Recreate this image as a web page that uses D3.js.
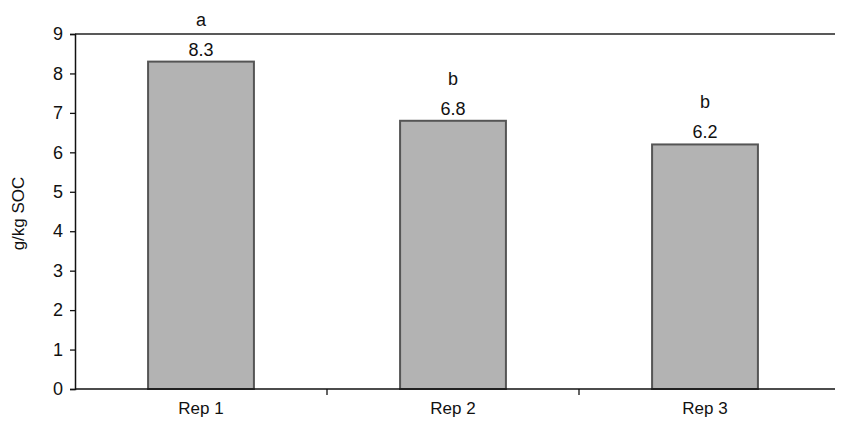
<!DOCTYPE html>
<html>
<head>
<meta charset="utf-8">
<script src="https://cdn.jsdelivr.net/npm/d3@7"></script>
<style>
body { margin: 0; background: #fff; }
text { font-family: "Liberation Sans", Arial, sans-serif; fill: #111; }
</style>
</head>
<body>
<svg width="841" height="425"></svg>
<script>
var categories = ["Rep 1", "Rep 2", "Rep 3"];
var values = [8.3, 6.8, 6.2];
var letters = ["a", "b", "b"];
var yTicks = [0, 1, 2, 3, 4, 5, 6, 7, 8, 9];

var margins = {top: 34, right: 6, bottom: 36, left: 75};
var width = 841 - margins.left - margins.right;
var height = 425 - margins.top - margins.bottom;

var svg = d3.select("svg");
var g = svg.append("g")
    .attr("transform", "translate(" + margins.left + "," + margins.top + ")");

var xScale = d3.scaleBand()
    .domain(categories)
    .range([0, 756])
    .paddingInner(0.58)
    .paddingOuter(0.29);

var yScale = d3.scaleLinear()
    .domain([0, 9])
    .range([height, 0]);

// top border line
g.append("line")
    .attr("x1", 0).attr("x2", width)
    .attr("y1", 0).attr("y2", 0)
    .attr("stroke", "#222").attr("stroke-width", 1.3);

// bars
g.selectAll("rect.bar")
    .data(values)
    .enter()
    .append("rect")
    .attr("class", "bar")
    .attr("x", function(d, i) { return xScale(categories[i]); })
    .attr("y", function(d) { return yScale(d); })
    .attr("width", xScale.bandwidth())
    .attr("height", function(d) { return yScale(0) - yScale(d); })
    .attr("fill", "#b3b3b3")
    .attr("stroke", "#555")
    .attr("stroke-width", 2);

// value labels
g.selectAll("text.val")
    .data(values)
    .enter()
    .append("text")
    .attr("class", "val")
    .attr("x", function(d, i) { return xScale(categories[i]) + xScale.bandwidth() / 2; })
    .attr("y", function(d) { return yScale(d) - 6; })
    .attr("text-anchor", "middle")
    .style("font-size", "18px")
    .text(function(d) { return d.toFixed(1); });

// significance letters
g.selectAll("text.letter")
    .data(letters)
    .enter()
    .append("text")
    .attr("class", "letter")
    .attr("x", function(d, i) { return xScale(categories[i]) + xScale.bandwidth() / 2; })
    .attr("y", function(d, i) { return yScale(values[i]) - 36; })
    .attr("text-anchor", "middle")
    .style("font-size", "18px")
    .text(function(d) { return d; });

// y axis
var yAxis = d3.axisLeft(yScale)
    .tickValues(yTicks)
    .tickSize(5)
    .tickPadding(7)
    .tickFormat(d3.format("d"));

var yG = g.append("g").call(yAxis);
yG.select(".domain").attr("stroke", "#111").attr("stroke-width", 1.5);
yG.selectAll(".tick line").attr("stroke", "#111").attr("stroke-width", 1.3);
yG.selectAll(".tick text").style("font-size", "18px").attr("fill", "#111");

// x axis
var xAxis = d3.axisBottom(xScale).tickSize(0).tickPadding(13);
var xG = g.append("g")
    .attr("transform", "translate(0," + height + ")")
    .call(xAxis);
xG.select(".domain").remove();
xG.append("line")
    .attr("x1", 0).attr("x2", width)
    .attr("stroke", "#111").attr("stroke-width", 1.5);
xG.selectAll(".tick text").style("font-size", "17px").attr("fill", "#111");

// category separator ticks
var step = xScale.step();
xG.selectAll("line.sep")
    .data(categories.slice(0, categories.length - 1))
    .enter()
    .append("line")
    .attr("class", "sep")
    .attr("x1", function(d) { return xScale(d) + xScale.bandwidth() + step * xScale.paddingInner() / 2; })
    .attr("x2", function(d) { return xScale(d) + xScale.bandwidth() + step * xScale.paddingInner() / 2; })
    .attr("y1", 0).attr("y2", 6)
    .attr("stroke", "#111").attr("stroke-width", 1.3);

// y axis title
svg.append("text")
    .attr("transform", "translate(24," + (margins.top + height / 2 + 2) + ") rotate(-90)")
    .attr("text-anchor", "middle")
    .style("font-size", "17px")
    .text("g/kg SOC");
</script>
</body>
</html>
